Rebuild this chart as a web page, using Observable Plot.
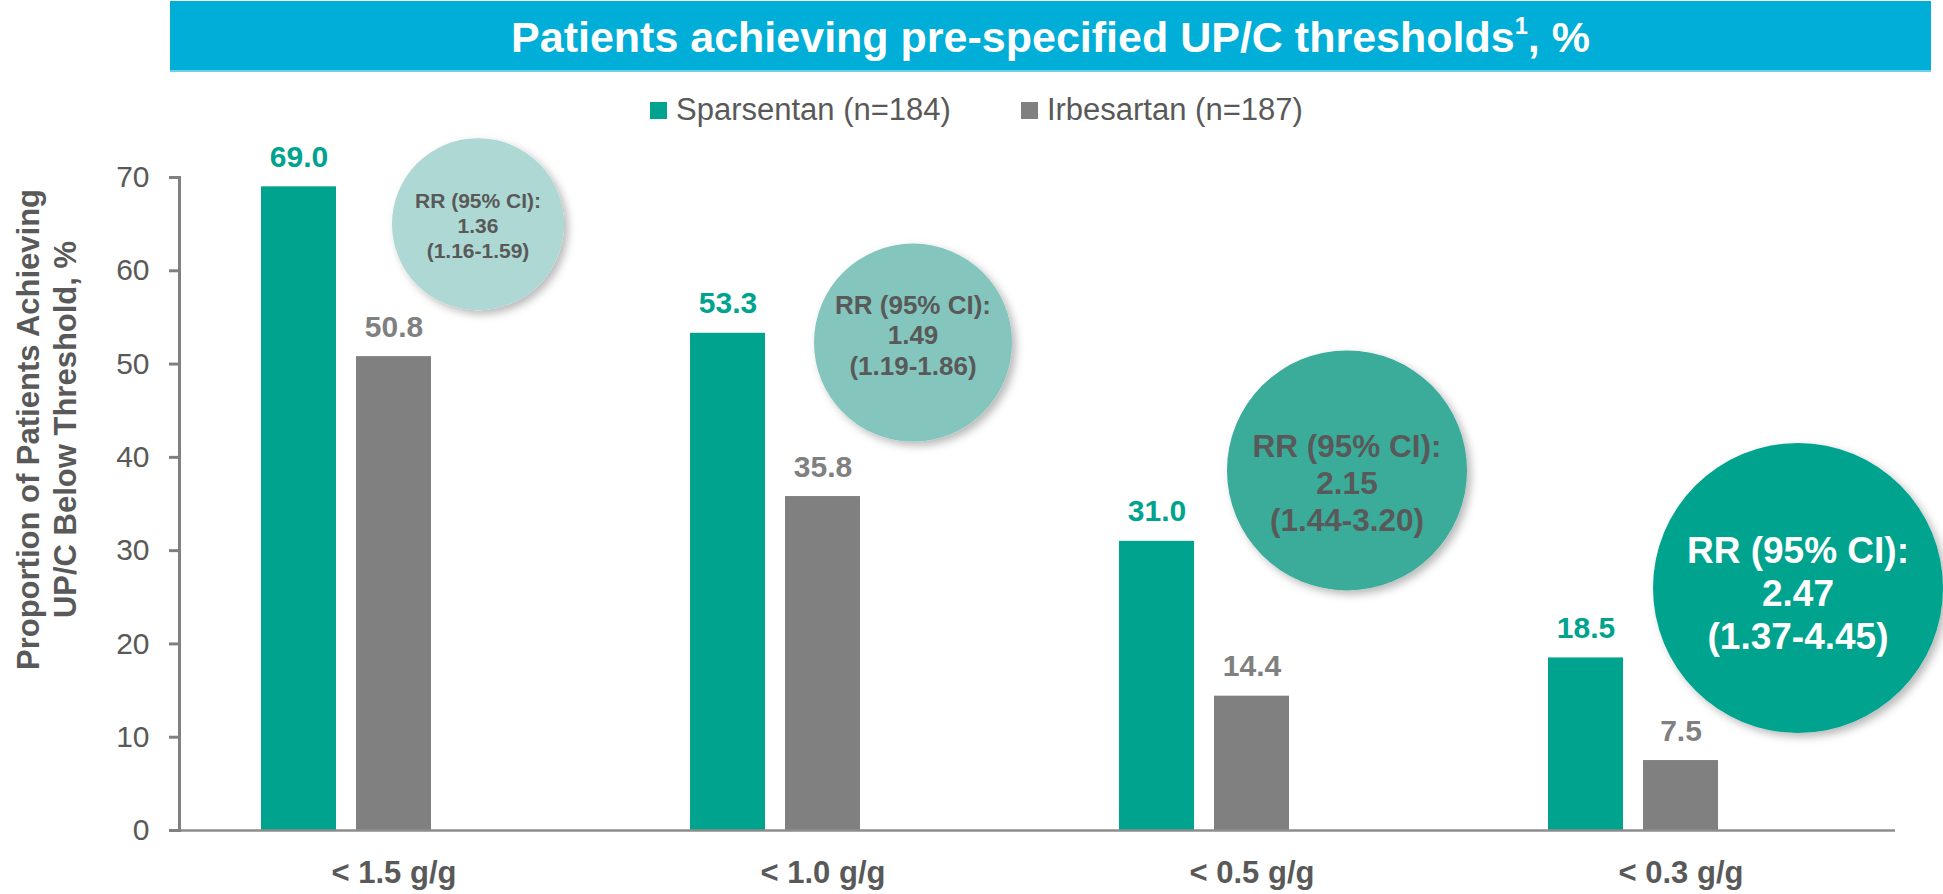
<!DOCTYPE html>
<html>
<head>
<meta charset="utf-8">
<script src="https://cdn.jsdelivr.net/npm/d3@7"></script>
<script src="https://cdn.jsdelivr.net/npm/@observablehq/plot@0.6"></script>
<style>
  body { margin: 0; background: #ffffff; font-family: "Liberation Sans", Arial, sans-serif; }
  #header { position: relative; width: 1943px; height: 130px; }
  #title { position: absolute; left: 170px; top: 1px; width: 1761px; height: 69px; background: #00AED7;
           border-bottom: 2px solid #6BD0E8; color: #ffffff; font-weight: bold; font-size: 43px;
           line-height: 72px; text-align: center; white-space: nowrap; }
  #title sup { font-size: 0.55em; line-height: 0; vertical-align: 0.75em; }
  #legend { position: absolute; left: 650px; top: 93px; height: 34px; display: flex; align-items: center;
            font-size: 31px; color: #595959; line-height: 34px; white-space: nowrap; }
  .item { display: flex; align-items: center; }
  .item + .item { margin-left: 70px; }
  .sw { width: 17px; height: 17px; display: inline-block; margin-right: 9px; }
</style>
</head>
<body>
<div id="header">
  <div id="title"></div>
  <div id="legend"></div>
</div>
<div id="chart"></div>
<script>
// ---------- data ----------
const titleMain = "Patients achieving pre-specified UP/C thresholds";
const titleSup = "1";
const titleTail = ", %";
const categories = ["< 1.5 g/g", "< 1.0 g/g", "< 0.5 g/g", "< 0.3 g/g"];
const series = ["Sparsentan (n=184)", "Irbesartan (n=187)"];
const sparsentan = [69.0, 53.3, 31.0, 18.5];
const irbesartan = [50.8, 35.8, 14.4, 7.5];
const rrEstimate = ["1.36", "1.49", "2.15", "2.47"];
const rrCI = ["1.16-1.59", "1.19-1.86", "1.44-3.20", "1.37-4.45"];
const rrLabel = "RR (95% CI):";
const yTicks = [0, 10, 20, 30, 40, 50, 60, 70];
const yTitle = "Proportion of Patients Achieving\nUP/C Below Threshold, %";

// ---------- styles / layout ----------
const seriesColors = ["#00A38E", "#808080"];
const spacer = "\u2002"; // empty third slot in each cluster (holds the RR bubble)
const bubbleStyle = [
  {y: 65.0, r: 86,  dx: -11, textDy: 1,  fill: "#AED8D3", color: "#595959", fontSize: 21},
  {y: 52.3, r: 99,  dx: -5,  textDy: -8, fill: "#84C6BD", color: "#595959", fontSize: 26},
  {y: 38.6, r: 120, dx: 0,   textDy: 12, fill: "#3AAB9A", color: "#595959", fontSize: 31.5},
  {y: 26.0, r: 145, dx: 22,  textDy: 4,  fill: "#00A38E", color: "#FFFFFF", fontSize: 37}
];

// ---------- header ----------
const t = document.getElementById("title");
t.append(titleMain);
const sup = document.createElement("sup"); sup.textContent = titleSup; t.append(sup);
t.append(titleTail);
const lg = document.getElementById("legend");
series.forEach((s, i) => {
  const it = document.createElement("div"); it.className = "item";
  const sw = document.createElement("span"); sw.className = "sw"; sw.style.background = seriesColors[i];
  it.append(sw); it.append(s); lg.append(it);
});

// ---------- tables ----------
const bars = categories.flatMap((c, i) => [
  {cat: c, series: series[0], value: sparsentan[i]},
  {cat: c, series: series[1], value: irbesartan[i]}
]);
const bubbles = categories.map((c, i) => ({cat: c, rr: rrEstimate[i], ci: rrCI[i]}));

const bubbleMarks = bubbles.flatMap((b, i) => {
  const s = bubbleStyle[i];
  return [
    Plot.dot([b], {fx: "cat", x: () => spacer, y: () => s.y, r: s.r, fill: s.fill, dx: s.dx}),
    Plot.text([b], {fx: "cat", x: () => spacer, y: () => s.y,
      text: d => `${rrLabel}\n${d.rr}\n(${d.ci})`,
      fill: s.color, fontSize: s.fontSize, fontWeight: "bold", lineHeight: 1.17,
      dx: s.dx, dy: s.textDy})
  ];
});

const chart = Plot.plot({
  width: 1943,
  height: 764,
  marginTop: 47,
  marginBottom: 64,
  marginLeft: 177,
  marginRight: 47,
  style: {fontFamily: "'Liberation Sans', Arial, sans-serif", background: "transparent", overflow: "visible", color: "#595959"},
  fx: {domain: categories, padding: 0},
  x: {domain: [...series, spacer], paddingInner: 0.215, paddingOuter: 0.857, axis: null},
  y: {domain: [0, 70]},
  color: {domain: series, range: seriesColors},
  marks: [
    Plot.barY(bars, {fx: "cat", x: "series", y: "value", fill: "series"}),
    Plot.text(bars, {fx: "cat", x: "series", y: "value", text: d => d.value.toFixed(1),
      fill: "series", fontSize: 30, fontWeight: "bold", lineAnchor: "bottom", dy: -20}),
    ...bubbleMarks,
    Plot.ruleY([0], {stroke: "#8C8C8C", strokeWidth: 2.5}),
    Plot.frame({anchor: "left", facetAnchor: "left", stroke: "#808080", strokeWidth: 3}),
    Plot.axisY({anchor: "left", ticks: yTicks, tickSize: 10, tickPadding: 20, stroke: "#808080",
      strokeWidth: 3, fill: "#595959", fontSize: 30, label: null}),
    Plot.axisFx({anchor: "bottom", tickSize: 0, tickPadding: 30, fontSize: 31, fontWeight: "bold",
      fill: "#595959", label: null}),
    Plot.text([{cat: categories[0], t: yTitle}], {fx: "cat", text: "t", frameAnchor: "left",
      textAnchor: "middle", lineAnchor: "middle",
      rotate: -90, dx: -134, dy: -74.5, fontSize: 31, fontWeight: "bold", fill: "#595959", lineHeight: 1.2})
  ]
});

// soft drop shadow on the RR bubbles
const sel = d3.select(chart);
const filt = sel.insert("defs", ":first-child").append("filter").attr("id", "bubbleShadow")
  .attr("x", "-30%").attr("y", "-30%").attr("width", "170%").attr("height", "170%");
filt.append("feDropShadow").attr("dx", 4).attr("dy", 4).attr("stdDeviation", 4)
  .attr("flood-color", "#000").attr("flood-opacity", 0.28);
sel.selectAll("circle").attr("filter", "url(#bubbleShadow)");

document.getElementById("chart").append(chart);
</script>
</body>
</html>
